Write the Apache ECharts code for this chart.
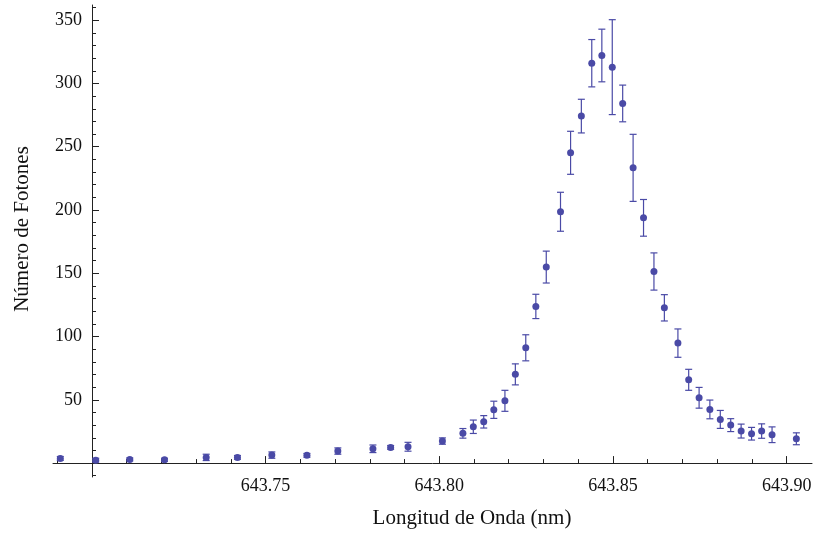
<!DOCTYPE html>
<html>
<head>
<meta charset="utf-8">
<script src="https://cdn.jsdelivr.net/npm/echarts@6/dist/echarts.min.js"></script>
<style>
  html, body { margin: 0; padding: 0; background: #fff; }
  #chart { width: 816px; height: 534px; }
</style>
</head>
<body>
<div id="chart"></div>
<script>
// longitud de onda (nm)
var waveLength = [
  643.6909, 643.7011, 643.7109, 643.7209, 643.7329, 643.7419, 643.7518, 643.7619,
  643.7708, 643.7809, 643.7860, 643.7910, 643.8009, 643.8068, 643.8098, 643.8128,
  643.8157, 643.8189, 643.8219, 643.8249, 643.8278, 643.8308, 643.8349, 643.8378,
  643.8409, 643.8439, 643.8468, 643.8498, 643.8528, 643.8558, 643.8588, 643.8618,
  643.8648, 643.8687, 643.8718, 643.8748, 643.8779, 643.8809, 643.8839, 643.8869,
  643.8899, 643.8928, 643.8958, 643.9028
];
// numero de fotones
var photons = [
  3.7, 2.3, 2.9, 2.6, 4.5, 4.5, 6.3, 6.1,
  9.5, 11.3, 12.4, 12.9, 17.4, 23.5, 28.7, 32.6,
  42.1, 49.2, 70.1, 91.1, 123.8, 154.9, 198.6, 245.2,
  274.2, 316.0, 322.1, 312.9, 284.2, 233.3, 193.8, 151.4,
  122.7, 94.8, 65.8, 51.6, 42.4, 34.5, 30.0, 25.3,
  23.2, 25.3, 22.4, 19.2
];
// barras de error
var photonErr = [
  1.5, 1.5, 1.2, 1.2, 2.5, 1.5, 2.5, 1.5,
  2.5, 3.0, 1.5, 3.5, 2.5, 3.8, 5.3, 4.9,
  6.8, 8.3, 8.3, 10.3, 9.6, 12.6, 15.4, 17.0,
  13.3, 18.7, 20.8, 37.5, 14.5, 26.5, 14.5, 14.7,
  10.4, 11.2, 8.3, 8.2, 7.4, 7.1, 5.1, 5.5,
  5.0, 5.7, 6.2, 4.7
];
var xTickLabels = [643.75, 643.80, 643.85, 643.90];
var yTickLabels = [50, 100, 150, 200, 250, 300, 350];

var color = '#4a4aa6';
var axisColor = '#222';
var font = '"Liberation Serif", "Times New Roman", serif';

// todos los ticks (cada 0.01 nm y cada 10 fotones), los mayores se repasan mas largos
var xAllTicks = [];
for (var i = 69; i <= 90; i++) xAllTicks.push(643 + i / 100);
var xMajor = [643.70].concat(xTickLabels);
var yAllTicks = [];
for (var j = -1; j <= 36; j++) yAllTicks.push(j * 10);
var yMajor = [0].concat(yTickLabels);

var points = waveLength.map(function (x, k) { return [x, photons[k]]; });
var bars = waveLength.map(function (x, k) { return [x, photons[k], photonErr[k]]; });

var myChart = echarts.init(document.getElementById('chart'));
var option = {
  animation: false,
  grid: { left: 53, right: 4, top: 5, bottom: 57 },
  xAxis: [
    {
      type: 'value', min: 643.6888, max: 643.9073,
      axisLine: { onZero: true, lineStyle: { color: axisColor, width: 1 } },
      axisTick: { inside: true, length: 4, customValues: xAllTicks, lineStyle: { color: axisColor } },
      axisLabel: {
        customValues: xTickLabels, margin: 0,
        color: '#111', fontFamily: font, fontSize: 18,
        formatter: function (v) { return v.toFixed(2); }
      },
      splitLine: { show: false }
    },
    {
      type: 'value', min: 643.6888, max: 643.9073, position: 'bottom',
      axisLine: { show: false, onZero: true },
      axisTick: { inside: true, length: 7, customValues: xMajor, lineStyle: { color: axisColor } },
      axisLabel: { show: false },
      splitLine: { show: false }
    }
  ],
  yAxis: [
    {
      type: 'value', min: -11, max: 362, offset: -39, position: 'left',
      axisLine: { show: true, onZero: false, lineStyle: { color: axisColor, width: 1 } },
      axisTick: { show: true, inside: true, length: 4, customValues: yAllTicks, lineStyle: { color: axisColor } },
      axisLabel: {
        customValues: yTickLabels, margin: 10,
        color: '#111', fontFamily: font, fontSize: 18
      },
      splitLine: { show: false }
    },
    {
      type: 'value', min: -11, max: 362, offset: -39, position: 'left',
      axisLine: { show: false, onZero: false },
      axisTick: { show: true, inside: true, length: 7, customValues: yMajor, lineStyle: { color: axisColor } },
      axisLabel: { show: false },
      splitLine: { show: false }
    }
  ],
  graphic: [
    {
      type: 'text', x: 472, y: 518,
      style: { text: 'Longitud de Onda (nm)', fill: '#111', font: '21px ' + font, textAlign: 'center', textVerticalAlign: 'middle' }
    },
    {
      type: 'text', x: 22, y: 229, rotation: Math.PI / 2,
      style: { text: 'Número de Fotones', fill: '#111', font: '21px ' + font, textAlign: 'center', textVerticalAlign: 'middle' }
    }
  ],
  series: [
    {
      type: 'custom',
      xAxisIndex: 0, yAxisIndex: 0,
      data: bars,
      renderItem: function (params, api) {
        var x = api.value(0), y = api.value(1), e = api.value(2);
        var top = api.coord([x, y + e]);
        var bot = api.coord([x, y - e]);
        var hw = 3.5;
        var st = { stroke: color, lineWidth: 1.2 };
        return {
          type: 'group',
          children: [
            { type: 'line', shape: { x1: top[0], y1: top[1], x2: bot[0], y2: bot[1] }, style: st },
            { type: 'line', shape: { x1: top[0] - hw, y1: top[1], x2: top[0] + hw, y2: top[1] }, style: st },
            { type: 'line', shape: { x1: bot[0] - hw, y1: bot[1], x2: bot[0] + hw, y2: bot[1] }, style: st }
          ]
        };
      }
    },
    {
      type: 'scatter',
      xAxisIndex: 0, yAxisIndex: 0,
      symbol: 'circle', symbolSize: 7,
      itemStyle: { color: color, opacity: 1 },
      data: points
    }
  ]
};
myChart.setOption(option);
</script>
</body>
</html>
